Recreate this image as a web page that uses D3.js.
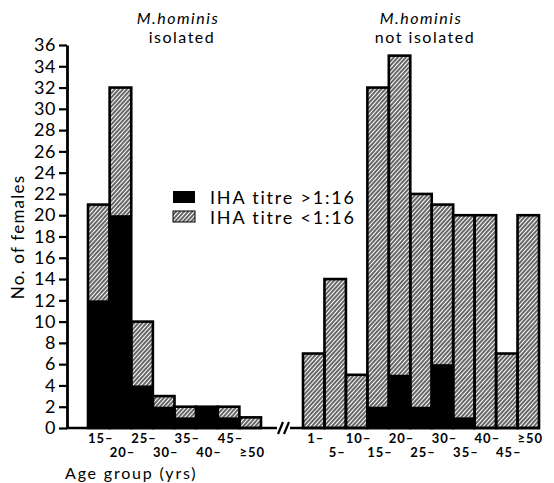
<!DOCTYPE html>
<html>
<head>
<meta charset="utf-8">
<script src="https://cdn.jsdelivr.net/npm/d3@7"></script>
<style>
  body { margin: 0; background: #fff; }
  text { font-family: Lato, "DejaVu Sans", sans-serif; fill: #000; }
</style>
</head>
<body>
<svg id="chart" width="554" height="483"></svg>
<script>
// age groups and counts
var leftAges = ["15\u2013", "20\u2013", "25\u2013", "30\u2013", "35\u2013", "40\u2013", "45\u2013", "\u226550"];
var isolatedHigh = [12, 20, 4, 2, 1, 2, 1, 0];     // IHA titre >1:16
var isolatedLow = [9, 12, 6, 1, 1, 0, 1, 1];       // IHA titre <1:16

var rightAges = ["1\u2013", "5\u2013", "10\u2013", "15\u2013", "20\u2013", "25\u2013", "30\u2013", "35\u2013", "40\u2013", "45\u2013", "\u226550"];
var notIsolatedHigh = [0, 0, 0, 2, 5, 2, 6, 1, 0, 0, 0];
var notIsolatedLow = [7, 14, 5, 30, 30, 20, 15, 19, 20, 7, 20];

var yTicks = d3.range(0, 37, 2);
var legendLabels = ["IHA titre >1:16", "IHA titre <1:16"];

var svg = d3.select("#chart");

// hatch pattern
svg.append("defs").append("pattern")
    .attr("id", "hatch")
    .attr("patternUnits", "userSpaceOnUse")
    .attr("width", 3)
    .attr("height", 10)
    .attr("patternTransform", "rotate(42)")
  .append("line")
    .attr("x1", 1).attr("y1", 0)
    .attr("x2", 1).attr("y2", 10)
    .attr("stroke", "#000")
    .attr("stroke-width", 1.2);

var y = d3.scaleLinear().domain([0, 36]).range([428, 45]);

var xLeft = d3.scaleBand().domain(leftAges).range([88, 261]);
var xRight = d3.scaleBand().domain(rightAges).range([303, 539]);

function panel(scale, ages, high, low) {
  var data = ages.map(function(a, i) {
    return { age: a, i: i, high: high[i], total: high[i] + low[i] };
  });
  var g = svg.append("g");
  // hatched part (whole bar)
  g.selectAll("rect.low")
      .data(data)
    .enter().append("rect")
      .attr("x", d => scale(d.age))
      .attr("y", d => y(d.total))
      .attr("width", scale.bandwidth())
      .attr("height", d => y(0) - y(d.total))
      .attr("fill", "url(#hatch)");
  // black part
  g.selectAll("rect.high")
      .data(data)
    .enter().append("rect")
      .attr("x", d => scale(d.age))
      .attr("y", d => y(d.high))
      .attr("width", scale.bandwidth())
      .attr("height", d => y(0) - y(d.high))
      .attr("fill", "#000");
  // outline
  g.selectAll("rect.box")
      .data(data)
    .enter().append("rect")
      .attr("x", d => scale(d.age))
      .attr("y", d => y(d.total))
      .attr("width", scale.bandwidth())
      .attr("height", d => y(0) - y(d.total))
      .attr("fill", "none")
      .attr("stroke", "#000")
      .attr("stroke-width", 2.6);
  // age labels in two staggered rows
  g.selectAll("text")
      .data(data)
    .enter().append("text")
      .attr("x", d => scale(d.age) + scale.bandwidth() / 2 + 2)
      .attr("y", d => d.i % 2 ? 457 : 443)
      .attr("text-anchor", "middle")
      .style("font-size", "13px")
      .style("font-weight", "bold")
      .style("letter-spacing", "1px")
      .text(d => d.age);
}

panel(xLeft, leftAges, isolatedHigh, isolatedLow);
panel(xRight, rightAges, notIsolatedHigh, notIsolatedLow);

// y axis
var yAxis = svg.append("g")
    .attr("transform", "translate(67,0)")
    .call(d3.axisLeft(y).tickValues(yTicks).tickSize(8).tickSizeOuter(0).tickPadding(3));
yAxis.select(".domain").attr("stroke-width", 2.8);
yAxis.selectAll(".tick line").attr("stroke-width", 2.2);
yAxis.selectAll(".tick text")
    .style("font-size", "18px")
    .style("font-family", "Lato, sans-serif")
    .style("letter-spacing", "0.5px");

// baseline with break
svg.append("path")
    .attr("d", "M66," + y(0) + "H277M290," + y(0) + "H540")
    .attr("stroke", "#000")
    .attr("stroke-width", 2.6)
    .attr("fill", "none");
svg.selectAll("line.brk")
    .data([278, 284])
  .enter().append("line")
    .attr("x1", d => d).attr("y1", y(0) + 6)
    .attr("x2", d => d + 5).attr("y2", y(0) - 6)
    .attr("stroke", "#000")
    .attr("stroke-width", 2.2);

// axis titles
svg.append("text")
    .attr("transform", "translate(24,237) rotate(-90)")
    .attr("text-anchor", "middle")
    .style("font-size", "17px")
    .style("letter-spacing", "1.2px")
    .text("No. of females");

svg.append("text")
    .attr("x", 65).attr("y", 479)
    .style("font-size", "16px")
    .style("letter-spacing", "1.8px")
    .text("Age group  (yrs)");

// panel titles
var titles = [
  { x: 178, sub: "isolated" },
  { x: 421, sub: "not isolated" }
];
titles.forEach(function(t) {
  svg.append("text")
      .attr("x", t.x).attr("y", 24)
      .attr("text-anchor", "middle")
      .style("font-size", "16px")
      .style("font-style", "italic")
      .style("letter-spacing", "1.5px")
      .text("M.hominis");
  svg.append("text")
      .attr("x", t.x + 4).attr("y", 43)
      .attr("text-anchor", "middle")
      .style("font-size", "16px")
      .style("letter-spacing", "1.5px")
      .text(t.sub);
});

// legend
var legend = svg.append("g").attr("transform", "translate(173,191)");
legend.append("rect")
    .attr("width", 22).attr("height", 12)
    .attr("fill", "#000");
legend.append("rect")
    .attr("y", 20)
    .attr("width", 22).attr("height", 11)
    .attr("fill", "url(#hatch)")
    .attr("stroke", "#000")
    .attr("stroke-width", 1);
legend.selectAll("text")
    .data(legendLabels)
  .enter().append("text")
    .attr("x", 37)
    .attr("y", (d, i) => 13 + i * 20)
    .style("font-size", "18px")
    .style("letter-spacing", "1.8px")
    .text(d => d);
</script>
</body>
</html>
